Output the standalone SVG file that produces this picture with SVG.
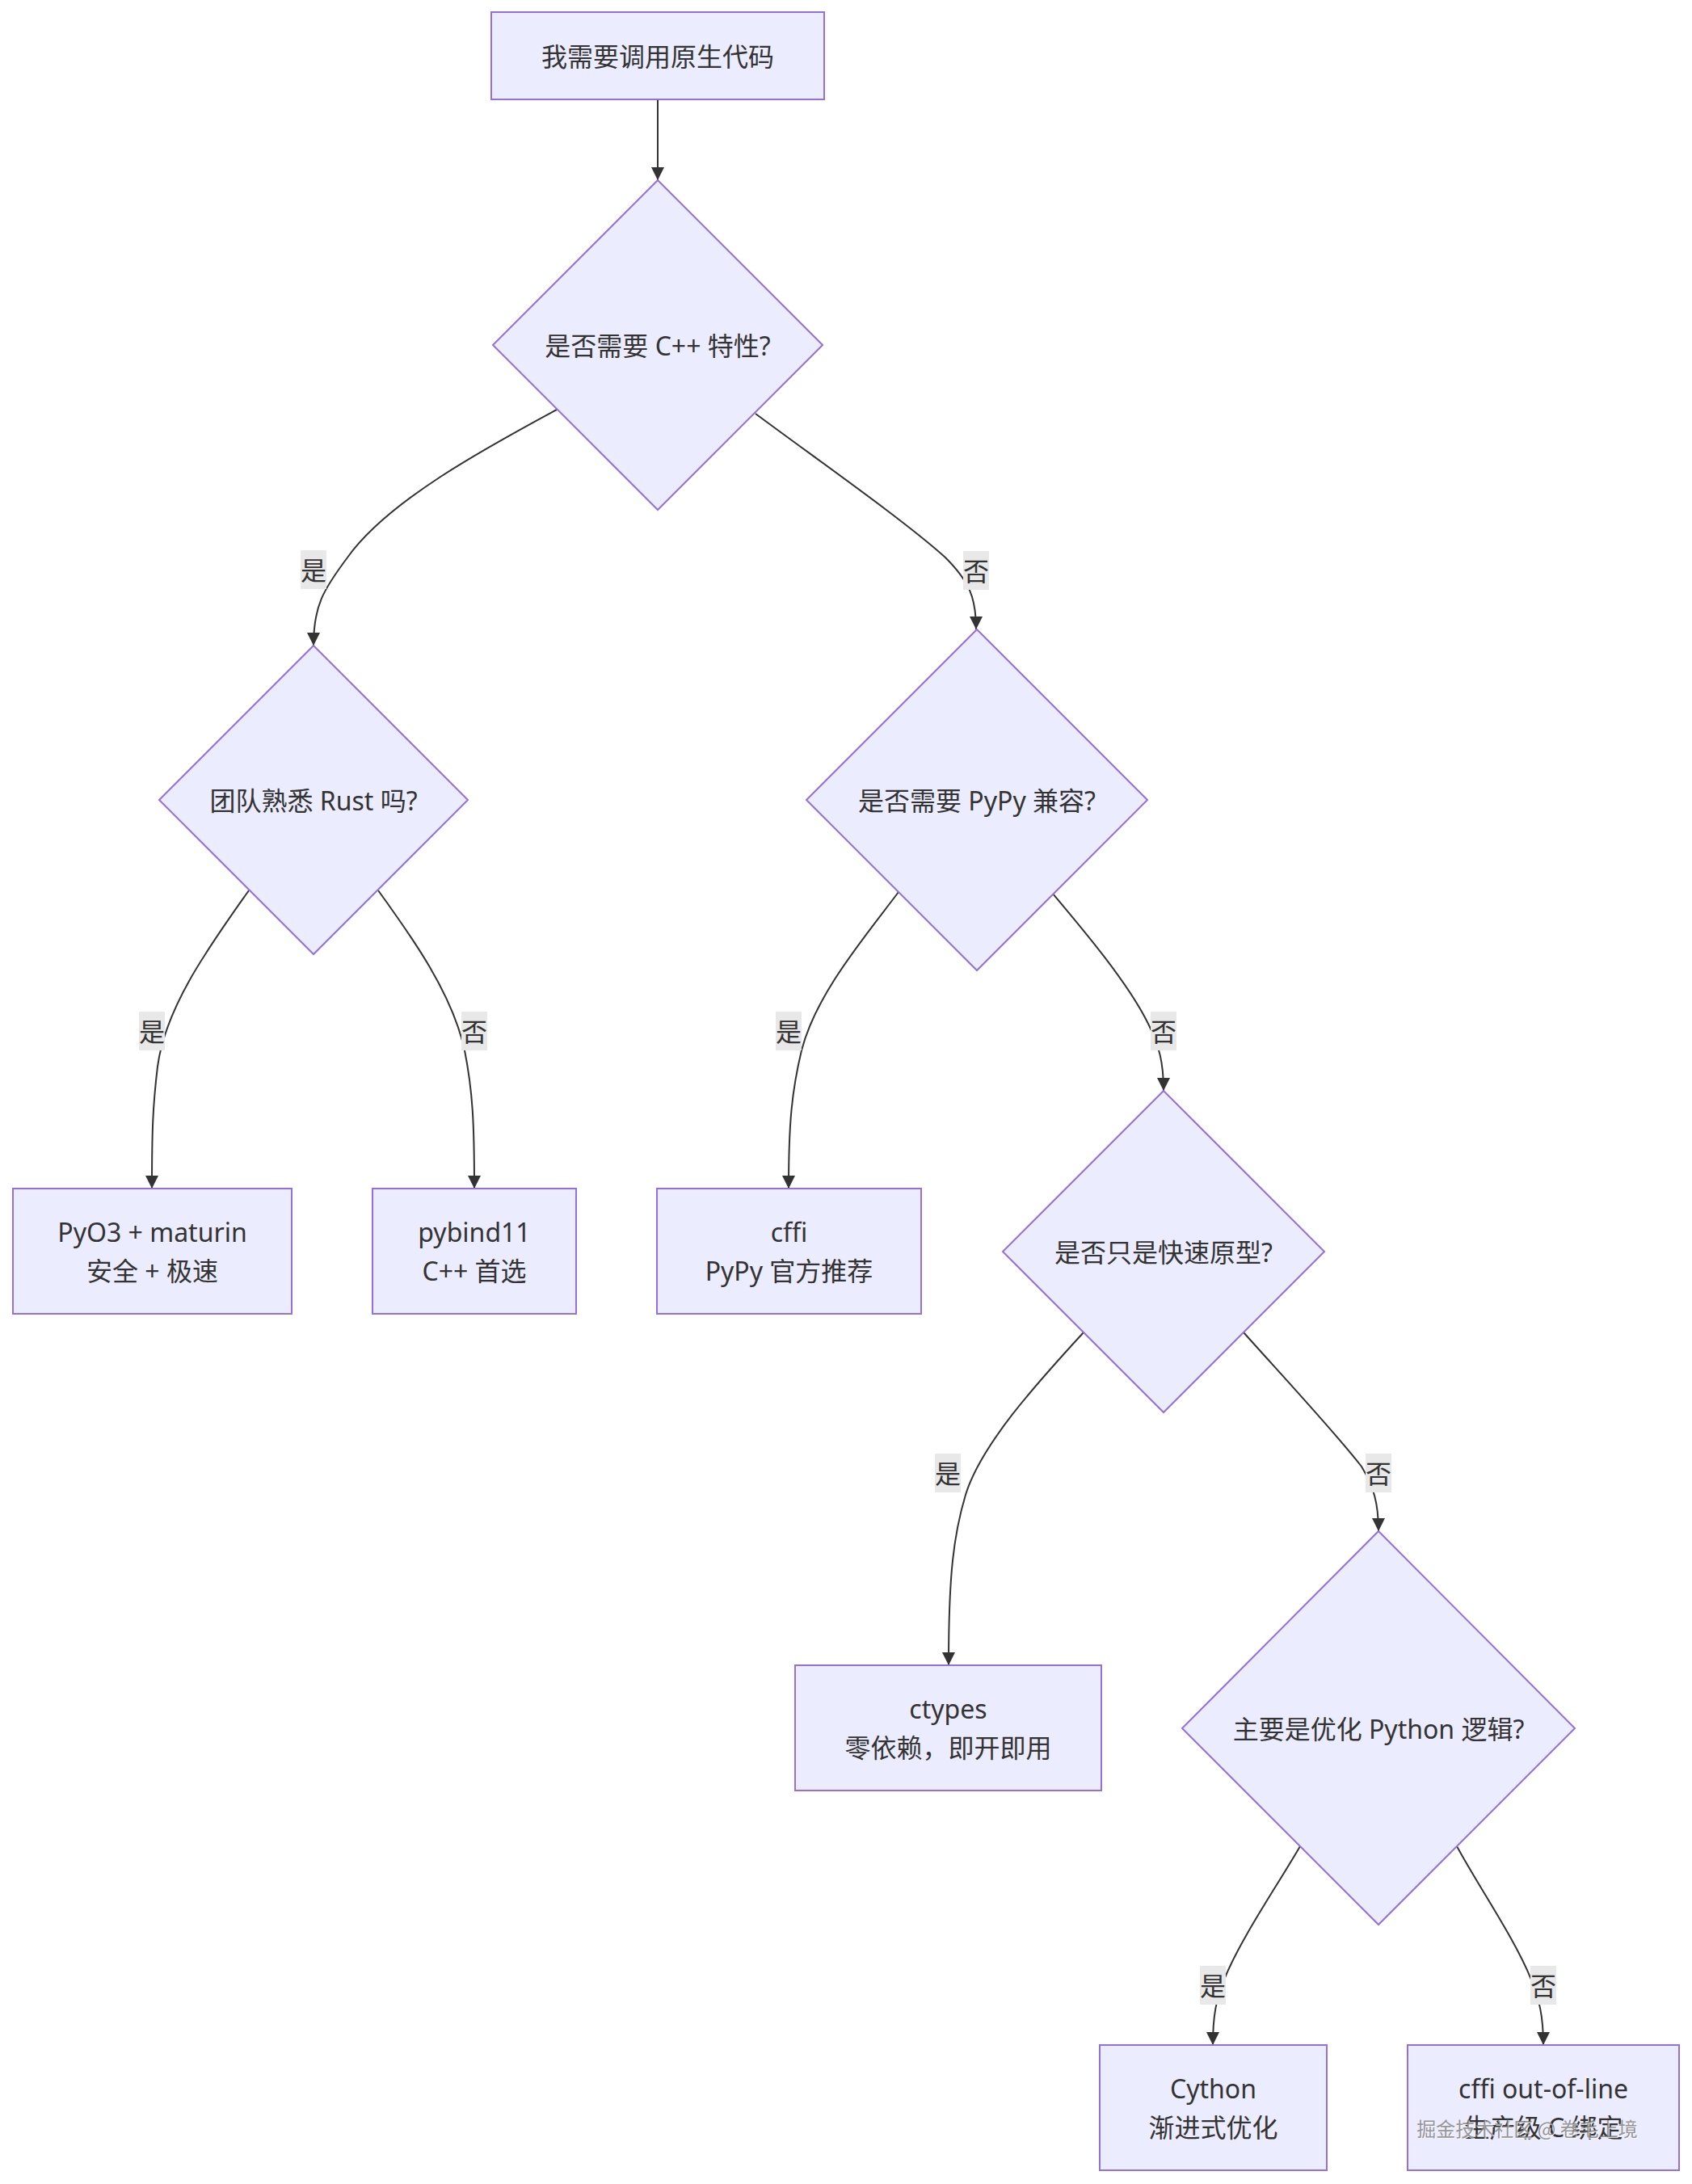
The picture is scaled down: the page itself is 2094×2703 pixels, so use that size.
<svg xmlns="http://www.w3.org/2000/svg" width="2094" height="2703" viewBox="0 0 2094 2703">
<style>
  .node rect, .node polygon { fill: #ECECFF; stroke: #9370DB; stroke-width: 2; }
  .node text, .lbl text { font-family: "Noto Sans", "Noto Sans CJK SC", sans-serif; font-size: 32px; fill: #333333; text-anchor: middle; dominant-baseline: central; }
  .edge { fill: none; stroke: #333333; stroke-width: 2; }
  .lbl rect { fill: #E8E8E8; }
  .wm { font-family: "Noto Sans CJK SC", sans-serif; font-size: 24px; text-anchor: middle; dominant-baseline: central; }
</style>
<defs>
  <marker id="arrow" viewBox="0 0 10 10" refX="10" refY="5" markerUnits="userSpaceOnUse" markerWidth="16" markerHeight="16" orient="auto">
    <path d="M0,0 L10,5 L0,10 z" fill="#333333"/>
  </marker>
</defs>
<rect x="0" y="0" width="2094" height="2703" fill="#FFFFFF"/>

<g id="connectors">
  <path class="edge" marker-end="url(#arrow)" d="M814,123 L814,223"/>
  <path class="edge" marker-end="url(#arrow)" d="M689,507 C600,555 480,620 430,690 C400,730 388,750 388,799"/>
  <path class="edge" marker-end="url(#arrow)" d="M935,512 C1020,575 1120,645 1170,690 C1200,720 1208,740 1208,779"/>
  <path class="edge" marker-end="url(#arrow)" d="M308,1102 C260,1170 205,1245 195,1320 C189,1370 188,1400 188,1471"/>
  <path class="edge" marker-end="url(#arrow)" d="M468,1102 C510,1160 560,1230 575,1300 C585,1350 587,1390 587,1471"/>
  <path class="edge" marker-end="url(#arrow)" d="M1112,1104 C1070,1160 1010,1230 992,1300 C980,1350 976,1390 976,1471"/>
  <path class="edge" marker-end="url(#arrow)" d="M1303,1106 C1340,1150 1395,1215 1420,1265 C1435,1295 1440,1315 1440,1350"/>
  <path class="edge" marker-end="url(#arrow)" d="M1341,1649 C1290,1705 1215,1785 1195,1850 C1180,1900 1174,1950 1174,2061"/>
  <path class="edge" marker-end="url(#arrow)" d="M1539,1649 C1580,1695 1650,1770 1685,1815 C1700,1840 1706,1860 1706,1895"/>
  <path class="edge" marker-end="url(#arrow)" d="M1609,2285 C1580,2335 1535,2400 1515,2450 C1505,2475 1501,2495 1501,2531"/>
  <path class="edge" marker-end="url(#arrow)" d="M1803,2285 C1830,2335 1875,2400 1895,2450 C1905,2475 1910,2495 1910,2531"/>
</g>

<g id="edge-labels">
  <g class="lbl"><rect x="372" y="681" width="32" height="48"/><text x="388" y="705">是</text></g>
  <g class="lbl"><rect x="1192" y="682" width="32" height="48"/><text x="1208" y="706">否</text></g>
  <g class="lbl"><rect x="172" y="1252" width="32" height="48"/><text x="188" y="1276">是</text></g>
  <g class="lbl"><rect x="571" y="1252" width="32" height="48"/><text x="587" y="1276">否</text></g>
  <g class="lbl"><rect x="960" y="1252" width="32" height="48"/><text x="976" y="1276">是</text></g>
  <g class="lbl"><rect x="1424" y="1252" width="32" height="48"/><text x="1440" y="1276">否</text></g>
  <g class="lbl"><rect x="1157" y="1799" width="32" height="48"/><text x="1173" y="1823">是</text></g>
  <g class="lbl"><rect x="1690" y="1799" width="32" height="48"/><text x="1706" y="1823">否</text></g>
  <g class="lbl"><rect x="1485" y="2433" width="32" height="48"/><text x="1501" y="2457">是</text></g>
  <g class="lbl"><rect x="1894" y="2433" width="32" height="48"/><text x="1910" y="2457">否</text></g>
</g>

<g id="start" class="node">
  <rect x="608" y="15" width="412" height="108"/>
  <text x="814" y="69">我需要调用原生代码</text>
</g>
<g id="q_cpp" class="node">
  <polygon points="814,223 1018,427 814,631 610,427"/>
  <text x="814" y="427">是否需要 C++ 特性?</text>
</g>
<g id="q_rust" class="node">
  <polygon points="388,799 579,990 388,1181 197,990"/>
  <text x="388" y="990">团队熟悉 Rust 吗?</text>
</g>
<g id="q_pypy" class="node">
  <polygon points="1209,779 1420,990 1209,1201 998,990"/>
  <text x="1209" y="990">是否需要 PyPy 兼容?</text>
</g>
<g id="q_proto" class="node">
  <polygon points="1440,1350 1639,1549 1440,1748 1241,1549"/>
  <text x="1440" y="1549">是否只是快速原型?</text>
</g>
<g id="q_python" class="node">
  <polygon points="1706,1895 1949,2139 1706,2382 1463,2139"/>
  <text x="1706" y="2139">主要是优化 Python 逻辑?</text>
</g>
<g id="pyo3" class="node">
  <rect x="16" y="1471" width="345" height="155"/>
  <text x="188.5" y="1524.5">PyO3 + maturin</text>
  <text x="188.5" y="1572.5">安全 + 极速</text>
</g>
<g id="pybind11" class="node">
  <rect x="461" y="1471" width="252" height="155"/>
  <text x="587" y="1524.5">pybind11</text>
  <text x="587" y="1572.5">C++ 首选</text>
</g>
<g id="cffi" class="node">
  <rect x="813" y="1471" width="327" height="155"/>
  <text x="976.5" y="1524.5">cffi</text>
  <text x="976.5" y="1572.5">PyPy 官方推荐</text>
</g>
<g id="ctypes" class="node">
  <rect x="984" y="2061" width="379" height="155"/>
  <text x="1173.5" y="2114.5">ctypes</text>
  <text x="1173.5" y="2162.5">零依赖，即开即用</text>
</g>
<g id="cython" class="node">
  <rect x="1361" y="2531" width="281" height="155"/>
  <text x="1501.5" y="2584.5">Cython</text>
  <text x="1501.5" y="2632.5">渐进式优化</text>
</g>
<g id="cffi_ool" class="node">
  <rect x="1742" y="2531" width="336" height="155"/>
  <text x="1910" y="2584.5">cffi out-of-line</text>
  <text x="1910" y="2632.5">生产级 C 绑定</text>
</g>

<g id="watermark">
  <text class="wm" x="1891" y="2634" fill="#FFFFFF" opacity="0.8">掘金技术社区 @ 卷毛上境</text>
  <text class="wm" x="1890" y="2633" fill="#777777" opacity="0.75">掘金技术社区 @ 卷毛上境</text>
</g>
</svg>
